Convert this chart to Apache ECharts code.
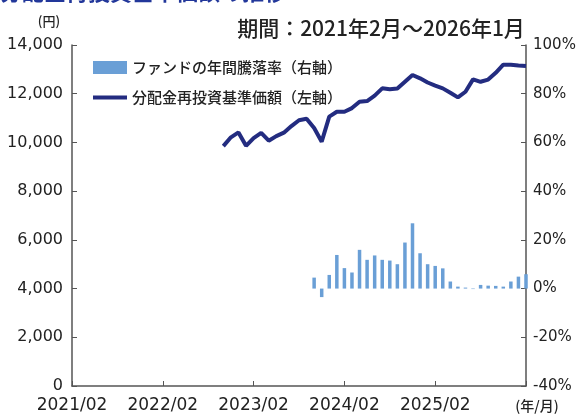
<!DOCTYPE html>
<html><head><meta charset="utf-8">
<script src="https://cdn.jsdelivr.net/npm/echarts@6/dist/echarts.min.js"></script>
<style>html,body{margin:0;padding:0;background:#fff}#c{width:582px;height:414px}</style>
</head><body><div id="c"></div>
<script>
// Monthly categories 2021/02 ... 2026/02 (axis end)
const startYear = 2021, startMonth = 2, monthCount = 61;
const months = [];
for (let i = 0; i < monthCount; i++) {
  const t = startMonth - 1 + i;
  const y = startYear + Math.floor(t / 12);
  const m = (t % 12) + 1;
  months.push(y + '/' + (m < 10 ? '0' + m : m));
}
const xTickLabels = ['2021/02', '2022/02', '2023/02', '2024/02', '2025/02'];

// 分配金再投資基準価額 (円), monthly from 2022/10
const navStart = '2022/10';
const navValues = [9850, 10210, 10410, 9860, 10180, 10390, 10070, 10260, 10400, 10670,
  10910, 10970, 10590, 10030, 11060, 11260, 11260, 11410, 11670, 11700,
  11920, 12220, 12180, 12210, 12490, 12770, 12630, 12460, 12330, 12220,
  12040, 11850, 12080, 12590, 12490, 12580, 12860, 13190, 13190, 13160, 13140];

// ファンドの年間騰落率 (%), monthly from 2023/10
const returnStart = '2023/10';
const returnValues = [4.5, -3.5, 5.6, 13.8, 8.4, 6.6, 15.9, 11.8, 13.6, 11.8,
  11.5, 10.0, 18.9, 26.8, 14.5, 10.0, 9.3, 8.3, 2.9, 0.8,
  0.4, -0.2, 1.5, 1.2, 1.1, 0.8, 2.9, 4.9, 5.9];

const leftTicks = { min: 0, max: 14000, interval: 2000 };
const rightTicks = { min: -40, max: 100, interval: 20 };

function align(start, vals) {
  const idx = months.indexOf(start);
  const out = new Array(months.length).fill(null);
  vals.forEach((v, i) => { out[idx + i] = v; });
  return out;
}

const lineName = '分配金再投資基準価額（左軸）';
const barName = 'ファンドの年間騰落率（右軸）';
const txt = '#222';
const axisCol = '#555';
const fontFam = 'DejaVu Sans, "Noto Sans CJK JP", sans-serif';
const cjk = '"Noto Sans CJK JP", sans-serif';

const chart = echarts.init(document.getElementById('c'), null, { renderer: 'canvas' });
chart.setOption({
  animation: false,
  backgroundColor: '#fff',
  textStyle: { fontFamily: fontFam },
  grid: { left: 72, right: 56, top: 45, bottom: 28, containLabel: false },
  legend: {
    orient: 'vertical', left: 88, top: 55, itemWidth: 34, itemHeight: 13, itemGap: 15,
    textStyle: { fontSize: 15, color: txt, fontFamily: cjk, fontWeight: 500 },
    data: [
      { name: barName, icon: 'rect' },
      { name: lineName, icon: 'path://M0,0H34V4H0Z' }
    ]
  },
  xAxis: {
    type: 'category', data: months, boundaryGap: false,
    axisLine: { lineStyle: { color: axisCol, width: 1.5 } },
    axisTick: { inside: true, length: 5, interval: (i) => i % 12 === 0, lineStyle: { color: axisCol } },
    axisLabel: {
      interval: 0, margin: 11, fontSize: 17, color: txt,
      formatter: (v) => xTickLabels.indexOf(v) >= 0 ? v : ''
    },
    splitLine: { show: false }
  },
  yAxis: [
    {
      type: 'value', min: leftTicks.min, max: leftTicks.max, interval: leftTicks.interval,
      axisLine: { show: true, lineStyle: { color: axisCol, width: 1.5 } },
      axisTick: { show: true, inside: true, length: 5, lineStyle: { color: axisCol } },
      axisLabel: { margin: 9, fontSize: 16, color: txt, formatter: (v) => v.toLocaleString('en-US') },
      splitLine: { show: false }
    },
    {
      type: 'value', min: rightTicks.min, max: rightTicks.max, interval: rightTicks.interval, position: 'right',
      axisLine: { show: true, lineStyle: { color: axisCol, width: 1.5 } },
      axisTick: { show: true, inside: true, length: 5, lineStyle: { color: axisCol } },
      axisLabel: { margin: 7, fontSize: 15, color: txt, formatter: '{value}%' },
      splitLine: { show: false }
    }
  ],
  series: [
    {
      name: barName, type: 'bar', yAxisIndex: 1, barWidth: 3.5,
      itemStyle: { color: '#6a9fd6' },
      data: align(returnStart, returnValues)
    },
    {
      name: lineName, type: 'line', yAxisIndex: 0, showSymbol: false, symbol: 'none',
      lineStyle: { color: '#232c80', width: 4 }, itemStyle: { color: '#232c80' },
      data: align(navStart, navValues)
    }
  ],
  graphic: [
    { type: 'text', left: 0, top: -19, style: { text: '分配金再投資基準価額の推移', fontSize: 22, fontWeight: 'bold', fill: '#22379a', fontFamily: cjk } },
    { type: 'text', x: 49, y: 21, style: { text: '(円)', fontSize: 13, fill: txt, align: 'center', verticalAlign: 'middle', fontFamily: cjk, fontWeight: 500 } },
    { type: 'text', x: 381, y: 28, style: { text: '期間：2021年2月～2026年1月', fontSize: 21, fill: txt, align: 'center', verticalAlign: 'middle', fontFamily: cjk, fontWeight: 500 } },
    { type: 'text', x: 537, y: 406, style: { text: '(年/月)', fontSize: 14, fill: txt, align: 'center', verticalAlign: 'middle', fontFamily: cjk, fontWeight: 500 } }
  ]
});
</script></body></html>
